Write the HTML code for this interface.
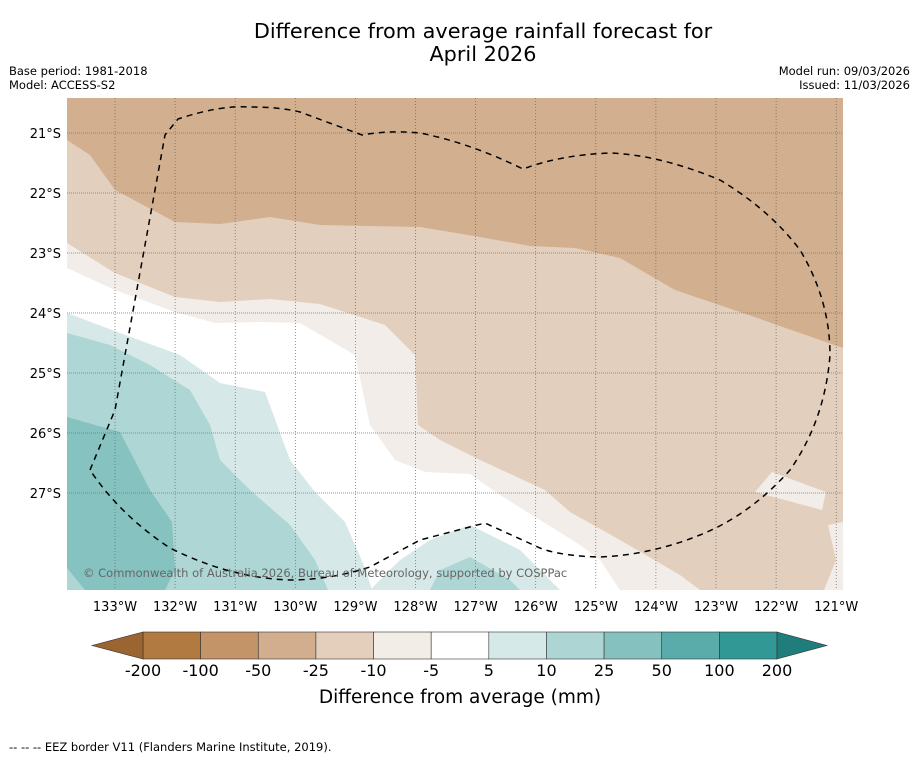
<!DOCTYPE html>
<html><head><meta charset="utf-8"><style>
body{margin:0;background:#fff;width:919px;height:758px;overflow:hidden;font-family:"Liberation Sans","DejaVu Sans",sans-serif}
svg text{font-family:"DejaVu Sans","Liberation Sans",sans-serif}
</style></head><body>
<svg id="c" width="919" height="758" xmlns="http://www.w3.org/2000/svg">
<rect width="919" height="758" fill="#fff"/>
<text x="483" y="38" font-size="20.8" text-anchor="middle">Difference from average rainfall forecast for</text>
<text x="483" y="61" font-size="20.8" text-anchor="middle">April 2026</text>
<text x="9" y="75" font-size="11.5">Base period: 1981-2018</text>
<text x="9" y="89" font-size="11.5">Model: ACCESS-S2</text>
<text x="910" y="75" font-size="11.5" text-anchor="end">Model run: 09/03/2026</text>
<text x="910" y="89" font-size="11.5" text-anchor="end">Issued: 11/03/2026</text>
<defs><clipPath id="mc"><rect x="67" y="98" width="776" height="492"/></clipPath></defs>
<g id="map" clip-path="url(#mc)">
<rect x="67" y="98" width="776" height="492" fill="#d2b08f"/>
<polygon fill="#e3cfbd" points="67,140 90,155 115,190 175,222 220,224 270,217 320,225 420,227 480,237 530,246 575,248 620,258 675,290 740,312 800,333 843,348 843,590 67,590"/>
<polygon fill="#f2ede8" points="67,243 115,273 175,297 220,302 270,299 320,304 385,325 415,355 418,425 440,440 480,460 545,490 570,512 620,540 680,575 700,590 67,590"/>
<polygon fill="#f2ede8" points="755,492 772,472 826,492 822,510"/>
<polygon fill="#f2ede8" points="828,525 843,522 843,590 824,590 836,560"/>
<polygon fill="#ffffff" points="67,268 115,290 175,312 215,323 260,322 300,323 355,355 370,425 395,460 425,472 470,474 500,495 540,520 580,545 600,560 620,590 67,590"/>
<polygon fill="#d6e9e8" points="67,313 120,333 180,355 220,383 265,392 290,460 315,492 345,522 365,568 372,590 67,590"/>
<polygon fill="#d6e9e8" points="370,590 400,560 430,540 470,525 520,550 560,590"/>
<polygon fill="#aed6d5" points="67,333 110,345 150,365 190,390 210,425 220,460 250,490 290,525 315,560 328,590 67,590"/>
<polygon fill="#aed6d5" points="430,590 440,570 470,557 510,580 520,590"/>
<polygon fill="#85c2c0" points="67,417 120,432 150,490 172,522 175,570 165,590 85,590 67,568"/>
<g id="grid"></g>
<path fill="none" stroke="#000" stroke-width="1.5" stroke-dasharray="6,5" d="M90,470 L115,410 L165,135 L178,119 Q220,105 250,107 Q280,107 300,112 L362,135 Q390,130 420,133 Q470,143 523,169 Q560,155 610,153 Q660,155 720,180 Q770,210 800,250 Q830,300 830,355 Q825,420 790,470 Q750,515 700,535 Q650,555 600,557 Q560,556 540,548 L485,523 L420,540 L370,567 Q330,580 290,580 Q230,578 170,548 Q120,515 90,470"/>
<text x="83" y="577" font-size="11.5" fill="#666">© Commonwealth of Australia 2026, Bureau of Meteorology, supported by COSPPac</text>
</g>
<g id="axes"></g>
<g id="cbar"></g>
<text x="460" y="703" font-size="18.5" text-anchor="middle">Difference from average (mm)</text>
<text x="9" y="751" font-size="11.5">--  --  -- EEZ border V11 (Flanders Marine Institute, 2019).</text>
</svg>
<script>
const lonTicks=[133,132,131,130,129,128,127,126,125,124,123,122,121];
const latTicks=[21,22,23,24,25,26,27];
const cbLevels=["-200","-100","-50","-25","-10","-5","5","10","25","50","100","200"];
const cbColors=["#b07a40","#c29468","#d3ae8e","#e4cfbd","#f3ede7","#ffffff","#d5e9e8","#acd5d4","#84c1bf","#5aacab","#319896"];
const ns="http://www.w3.org/2000/svg";
function xLon(w){return 115+(133-w)*60.1;}
function yLat(s){return 133+(s-21)*60;}
function mk(t,a,p){const e=document.createElementNS(ns,t);for(const k in a)e.setAttribute(k,a[k]);p.appendChild(e);return e;}
const g=document.getElementById('grid'),ax=document.getElementById('axes');
lonTicks.forEach(w=>{const x=xLon(w);
 const l=mk('line',{x1:x,x2:x,y1:98,y2:590,stroke:'#666','stroke-width':0.7,'stroke-dasharray':'1,2'},g);
 
 
 const t=mk('text',{x:x,y:611,'font-size':13,'text-anchor':'middle'},ax);t.textContent=w+'°W';
 
 });
latTicks.forEach(s=>{const y=yLat(s);
 const l=mk('line',{x1:67,x2:843,y1:y,y2:y,stroke:'#777','stroke-width':0.7,'stroke-dasharray':'1,1'},g);
 
 
 const t=mk('text',{x:61,y:y+5,'font-size':13,'text-anchor':'end'},ax);t.textContent=s+'°S';
 
 });
const cb=document.getElementById('cbar');const x0=143,x1=777,y0=632,h=27,bw=(x1-x0)/cbColors.length;
cbColors.forEach((c,i)=>{const r=mk('rect',{x:x0+i*bw,y:y0,width:bw,height:h,fill:c,stroke:'#333','stroke-width':0.6},cb);
 
 });
const lt=mk('polygon',{points:`${x0},${y0} 92,${y0+h/2} ${x0},${y0+h}`,fill:'#9a6530',stroke:'#333','stroke-width':0.6},cb);


const rt=mk('polygon',{points:`${x1},${y0} 827,${y0+h/2} ${x1},${y0+h}`,fill:'#1f7d7b',stroke:'#333','stroke-width':0.6},cb);


cbLevels.forEach((v,i)=>{const t=mk('text',{x:x0+i*bw,y:676,'font-size':16,'text-anchor':'middle'},cb);t.textContent=v;
 
 });
</script>
</body></html>
